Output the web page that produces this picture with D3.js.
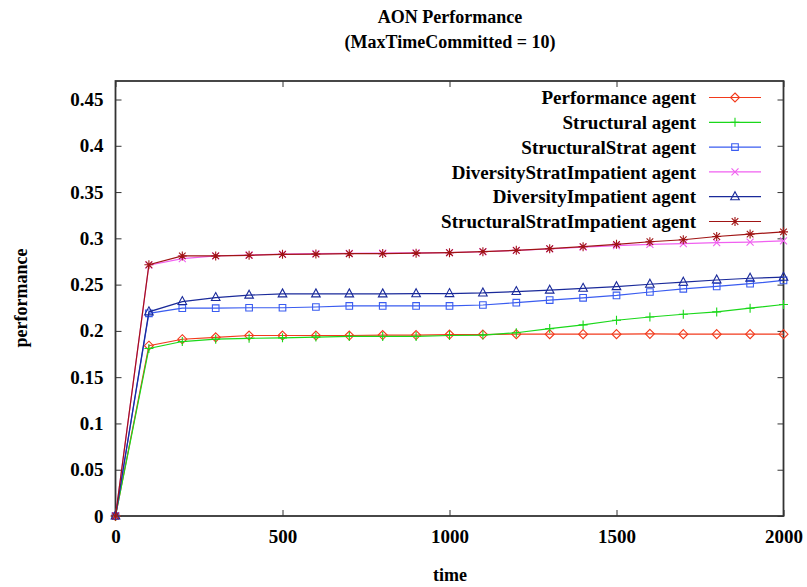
<!DOCTYPE html>
<html>
<head>
<meta charset="utf-8">
<script src="https://cdn.jsdelivr.net/npm/d3@7"></script>
<style>
  body { margin: 0; background: #fff; }
</style>
</head>
<body>
<div id="chart"></div>
<script>
const W = 807, H = 587;

// x values (time)
const times = d3.range(0, 2001, 100);

// series values
const performanceAgent = [0, 0.184, 0.191, 0.193, 0.195, 0.195, 0.195, 0.195, 0.1955, 0.1955, 0.196, 0.196, 0.1965, 0.1965, 0.1965, 0.1965, 0.1968, 0.1965, 0.1965, 0.1965, 0.1965];
const structuralAgent = [0, 0.181, 0.1885, 0.191, 0.192, 0.1925, 0.1933, 0.194, 0.194, 0.194, 0.195, 0.1955, 0.198, 0.2025, 0.2065, 0.2115, 0.215, 0.218, 0.2205, 0.2245, 0.2285];
const structuralStratAgent = [0, 0.219, 0.2245, 0.2245, 0.225, 0.225, 0.2258, 0.227, 0.227, 0.227, 0.227, 0.228, 0.2305, 0.2333, 0.2357, 0.2383, 0.242, 0.2455, 0.248, 0.251, 0.2545];
const diversityStratImpatientAgent = [0, 0.271, 0.278, 0.281, 0.282, 0.283, 0.2835, 0.2838, 0.284, 0.2842, 0.2845, 0.2855, 0.287, 0.2885, 0.2905, 0.2922, 0.2935, 0.2943, 0.2953, 0.296, 0.2972];
const diversityImpatientAgent = [0, 0.2206, 0.2317, 0.236, 0.2386, 0.24, 0.24, 0.24, 0.24, 0.2402, 0.2403, 0.241, 0.2425, 0.244, 0.246, 0.2478, 0.2504, 0.2526, 0.255, 0.2569, 0.258];
const structuralStratImpatientAgent = [0, 0.2715, 0.281, 0.281, 0.2817, 0.2827, 0.283, 0.2834, 0.2835, 0.284, 0.2845, 0.2856, 0.287, 0.2888, 0.291, 0.2935, 0.2963, 0.2985, 0.302, 0.3046, 0.307];

const seriesNames = ["Performance agent", "Structural agent", "StructuralStrat agent",
  "DiversityStratImpatient agent", "DiversityImpatient agent", "StructuralStratImpatient agent"];
const seriesValues = [performanceAgent, structuralAgent, structuralStratAgent,
  diversityStratImpatientAgent, diversityImpatientAgent, structuralStratImpatientAgent];
const colors = ["#f23a1c", "#1ad81a", "#3a5cf0", "#f060f0", "#1a2a9a", "#a01414"];
const markers = ["diamond", "plus", "square", "cross", "triangle", "star"];

const xTicks = [0, 500, 1000, 1500, 2000];
const yTicks = [0, 0.05, 0.1, 0.15, 0.2, 0.25, 0.3, 0.35, 0.4, 0.45];

const margin = {left: 115.5, right: W - 783.5, top: 81, bottom: H - 516};
const fontSize = 19;
const serif = "'Liberation Serif', 'Times New Roman', Tinos, Times, 'DejaVu Serif', 'Noto Serif', serif";

const svg = d3.select("#chart").append("svg")
  .attr("width", W)
  .attr("height", H);

const x = d3.scaleLinear().domain([0, 2000]).range([margin.left, W - margin.right]);
const y = d3.scaleLinear().domain([0, 0.47]).range([H - margin.bottom, margin.top]);

function label(sel, size) {
  return sel.style("font-family", serif).style("font-weight", "bold")
    .style("font-size", size + "px").style("fill", "#000");
}

// axes, ticks drawn inward and mirrored like gnuplot
const tickLen = 6;
function styleText(g) {
  g.attr("font-family", null).attr("font-size", null);
  label(g.selectAll("text"), fontSize);
}
svg.append("g")
  .attr("transform", `translate(0,${y(0)})`)
  .call(d3.axisBottom(x).tickValues(xTicks).tickSize(-tickLen).tickPadding(14).tickFormat(d3.format("d")))
  .call(g => g.select(".domain").remove())
  .call(styleText);
svg.append("g")
  .attr("transform", `translate(0,${margin.top})`)
  .call(d3.axisTop(x).tickValues(xTicks).tickSize(-tickLen).tickFormat(""))
  .call(g => g.select(".domain").remove());
svg.append("g")
  .attr("transform", `translate(${margin.left},0)`)
  .call(d3.axisLeft(y).tickValues(yTicks).tickSize(-tickLen).tickPadding(12).tickFormat(d => String(+d.toFixed(2))))
  .call(g => g.select(".domain").remove())
  .call(styleText);
svg.append("g")
  .attr("transform", `translate(${W - margin.right},0)`)
  .call(d3.axisRight(y).tickValues(yTicks).tickSize(-tickLen).tickFormat(""))
  .call(g => g.select(".domain").remove());
svg.selectAll(".tick line").attr("stroke", "#333");

// border
svg.append("rect")
  .attr("x", margin.left).attr("y", margin.top)
  .attr("width", x(2000) - x(0)).attr("height", y(0) - y(0.47))
  .attr("fill", "none").attr("stroke", "#333").attr("stroke-width", 1.8);

function markerPath(kind) {
  const p = d3.path();
  if (kind === "diamond") { p.moveTo(0, -4.5); p.lineTo(4.5, 0); p.lineTo(0, 4.5); p.lineTo(-4.5, 0); p.closePath(); }
  if (kind === "plus") { p.moveTo(-4.5, 0); p.lineTo(4.5, 0); p.moveTo(0, -4.5); p.lineTo(0, 4.5); }
  if (kind === "square") { p.rect(-3.3, -3.3, 6.6, 6.6); }
  if (kind === "cross") { p.moveTo(-3.5, -3.5); p.lineTo(3.5, 3.5); p.moveTo(-3.5, 3.5); p.lineTo(3.5, -3.5); }
  if (kind === "triangle") { p.moveTo(0, -5); p.lineTo(4.3, 3); p.lineTo(-4.3, 3); p.closePath(); }
  if (kind === "star") {
    p.moveTo(-4.5, 0); p.lineTo(4.5, 0); p.moveTo(0, -4.5); p.lineTo(0, 4.5);
    p.moveTo(-3.3, -3.3); p.lineTo(3.3, 3.3); p.moveTo(-3.3, 3.3); p.lineTo(3.3, -3.3);
  }
  return p.toString();
}

const line = d3.line().x((d, i) => x(times[i])).y(d => y(d));

seriesValues.forEach((vals, s) => {
  const g = svg.append("g");
  g.append("path")
    .attr("d", line(vals))
    .attr("fill", "none")
    .attr("stroke", colors[s])
    .attr("stroke-width", 1.2);
  g.selectAll(".pt")
    .data(vals)
    .enter().append("path")
    .attr("class", "pt")
    .attr("transform", (d, i) => `translate(${x(times[i])},${y(d)})`)
    .attr("d", markerPath(markers[s]))
    .attr("fill", "none")
    .attr("stroke", colors[s])
    .attr("stroke-width", 1.1);
});

// legend
const legend = svg.append("g");
seriesNames.forEach((name, s) => {
  const ly = 97.5 + s * 24.8;
  legend.append("text")
    .attr("x", 696).attr("y", ly).attr("dy", "0.35em")
    .attr("text-anchor", "end")
    .call(label, fontSize)
    .text(name);
  legend.append("line")
    .attr("x1", 709).attr("x2", 761).attr("y1", ly).attr("y2", ly)
    .attr("stroke", colors[s]).attr("stroke-width", 1.2);
  legend.append("path")
    .attr("transform", `translate(735,${ly})`)
    .attr("d", markerPath(markers[s]))
    .attr("fill", "none").attr("stroke", colors[s]).attr("stroke-width", 1.1);
});

// titles
svg.append("text").attr("x", 450).attr("y", 23).attr("text-anchor", "middle").call(label, 18).text("AON Performance");
svg.append("text").attr("x", 450).attr("y", 48).attr("text-anchor", "middle").call(label, 18).text("(MaxTimeCommitted = 10)");
svg.append("text").attr("x", 450).attr("y", 581).attr("text-anchor", "middle").call(label, 18).text("time");
svg.append("text").attr("transform", "translate(27,298) rotate(-90)").attr("text-anchor", "middle").call(label, 18).text("performance");
</script>
</body>
</html>
